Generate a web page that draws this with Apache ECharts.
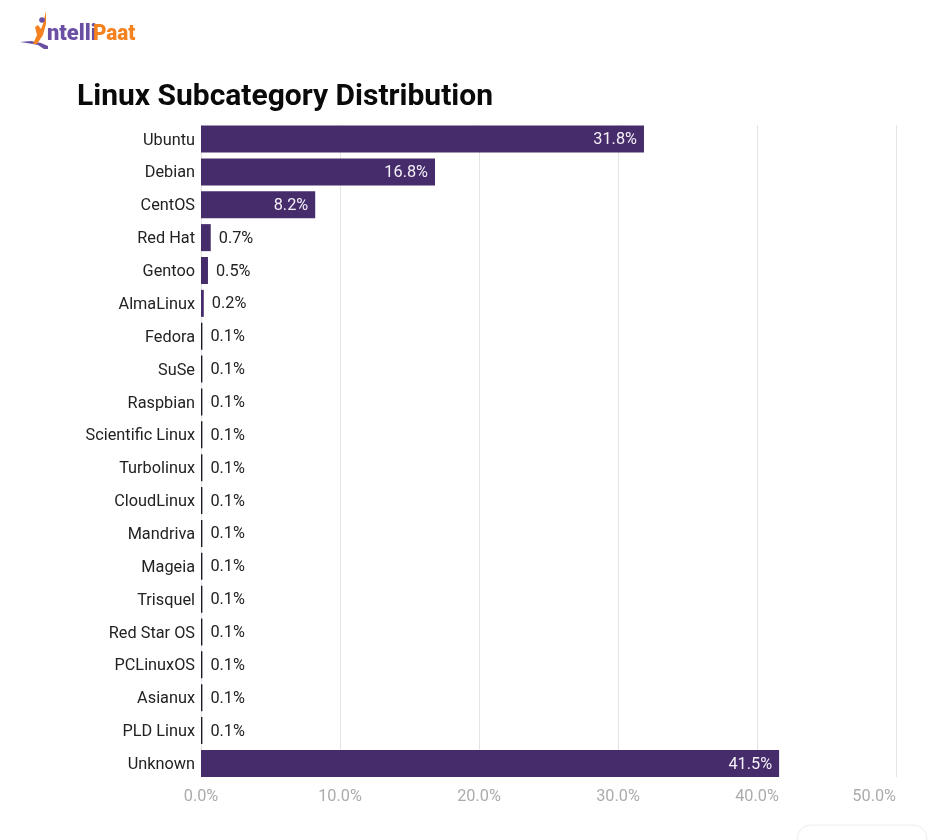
<!DOCTYPE html>
<html>
<head>
<meta charset="utf-8">
<style>
  html, body { margin: 0; padding: 0; background: #fff; }
  #chart { width: 950px; height: 840px; }
</style>
<script src="https://cdn.jsdelivr.net/npm/echarts@6/dist/echarts.min.js"></script>
</head>
<body>
<div id="chart"></div>
<script>
var categories = ['Ubuntu', 'Debian', 'CentOS', 'Red Hat', 'Gentoo', 'AlmaLinux', 'Fedora', 'SuSe', 'Raspbian',
  'Scientific Linux', 'Turbolinux', 'CloudLinux', 'Mandriva', 'Mageia', 'Trisquel', 'Red Star OS', 'PCLinuxOS',
  'Asianux', 'PLD Linux', 'Unknown'];
var shares = [31.8, 16.8, 8.2, 0.7, 0.5, 0.2, 0.1, 0.1, 0.1, 0.1, 0.1, 0.1, 0.1, 0.1, 0.1, 0.1, 0.1, 0.1, 0.1, 41.5];

var FONT = 'Roboto';
var PURPLE = '#472c6b';

function pct(v) {
  return v.toFixed(1) + '%';
}

// big bars carry the label inside, small ones next to the bar
var barData = shares.map(function (v) {
  var big = v > 5;
  return {
    value: v,
    itemStyle: { color: v < 0.2 ? '#1d1828' : PURPLE },
    label: {
      position: big ? 'insideRight' : 'right',
      color: big ? '#f4f0f8' : '#222',
      distance: big ? 7 : 8
    }
  };
});

var chart = echarts.init(document.getElementById('chart'), null, { renderer: 'canvas' });

chart.setOption({
  animation: false,
  backgroundColor: '#fff',
  textStyle: { fontFamily: FONT },
  title: {
    text: 'Linux Subcategory Distribution',
    left: 77,
    top: 82,
    padding: 0,
    textStyle: { fontFamily: FONT, fontSize: 30, fontWeight: 700, color: '#0a0a0a' }
  },
  // first grid only holds gridlines and tick labels, they stop short of the band edges
  grid: [
    { left: 201, right: 54, top: 125, bottom: 63 },
    { left: 201, right: 52.5, top: 122.6, bottom: 60.1 }
  ],
  xAxis: [{
    gridIndex: 0,
    type: 'value',
    min: 0,
    max: 50,
    interval: 10,
    axisLine: { show: false },
    axisTick: { show: false },
    splitLine: { show: true, lineStyle: { color: '#e4e4e4', width: 1 } },
    axisLabel: {
      color: '#ababab',
      fontFamily: FONT,
      fontSize: 16.3,
      margin: 12,
      alignMaxLabel: 'right',
      formatter: pct
    }
  }, {
    gridIndex: 1,
    type: 'value',
    min: 0,
    max: 50,
    show: false
  }],
  yAxis: [{
    gridIndex: 0,
    type: 'value',
    show: false
  }, {
    gridIndex: 1,
    type: 'category',
    inverse: true,
    data: categories,
    axisLine: { show: false },
    axisTick: { show: false },
    axisLabel: {
      margin: 6,
      formatter: '{name|{value}}',
      rich: {
        name: { color: '#222', fontFamily: FONT, fontSize: 16.3, padding: [3, 0, 0, 0] }
      }
    }
  }],
  series: [{
    type: 'bar',
    xAxisIndex: 1,
    yAxisIndex: 1,
    data: barData,
    barWidth: 27,
    label: {
      show: true,
      fontFamily: FONT,
      fontSize: 16.3,
      offset: [0, 1],
      formatter: function (p) { return pct(p.value); }
    }
  }],
  graphic: [
    // logo: swoosh, figure, wordmark
    { type: 'polygon', shape: { points: [[20, 42], [31, 41], [41, 43], [48, 46], [48, 49], [44, 49], [38, 45], [30, 43.5]] },
      style: { fill: '#6a4fa3' } },
    { type: 'polygon', shape: { points: [[46, 11], [46, 24], [43, 35], [37, 44], [33, 44], [37, 35], [35, 27], [38, 25], [41, 29], [43, 24]] },
      style: { fill: '#f58220' } },
    { type: 'circle', shape: { cx: 42, cy: 20, r: 2.8 }, style: { fill: '#6a4fa3' } },
    { type: 'text', x: 47, y: 23, scaleX: 0.97,
      style: { text: 'ntelli', fontFamily: FONT, fontWeight: 900, fontSize: 22.5, fill: '#6a4fa3' } },
    { type: 'text', x: 93, y: 23, scaleX: 0.92,
      style: { text: 'Paat', fontFamily: FONT, fontWeight: 900, fontSize: 22.5, fill: '#f58220' } },
    // cut-off rounded box at the bottom edge
    { type: 'rect', shape: { x: 797, y: 825, width: 130, height: 40, r: 14 },
      style: { fill: '#fff', stroke: '#ececec', lineWidth: 1 } }
  ]
});
</script>
</body>
</html>
